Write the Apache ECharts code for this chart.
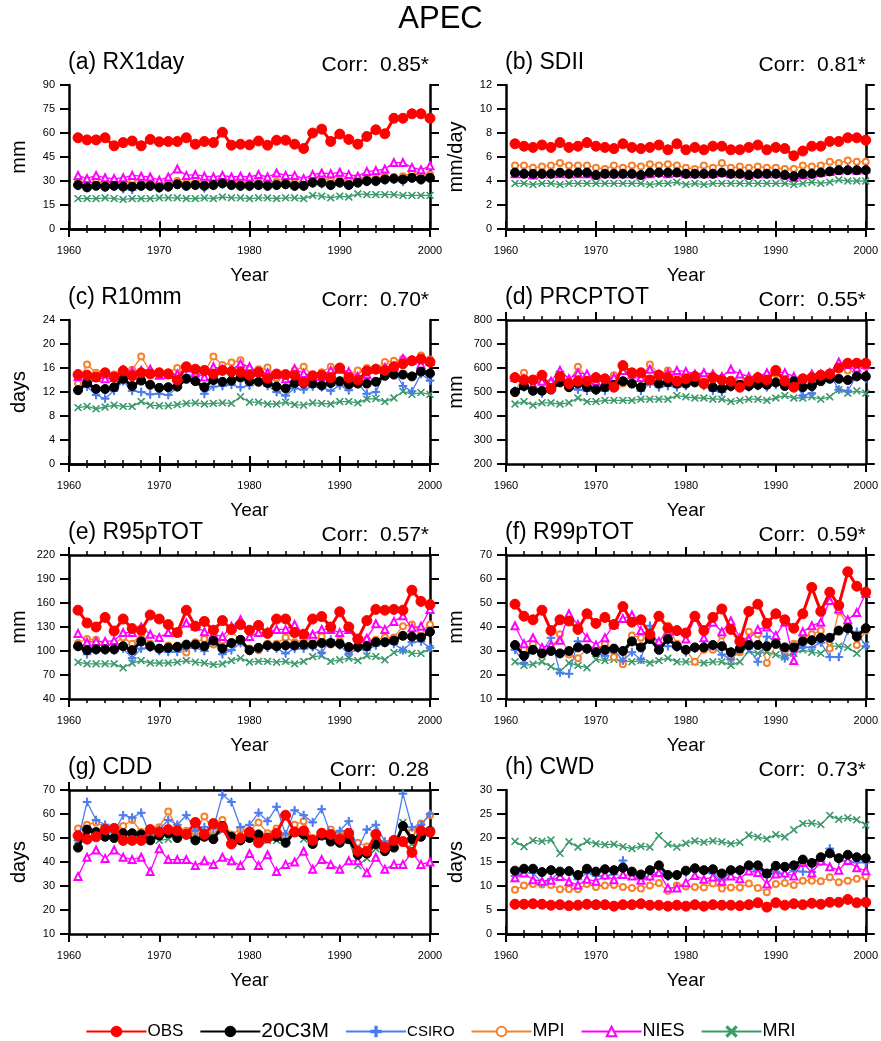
<!DOCTYPE html>
<html>
<head>
<meta charset="utf-8">
<title>APEC</title>
<script src="https://cdn.jsdelivr.net/npm/echarts@6/dist/echarts.min.js"></script>
<style>
  html, body { margin: 0; padding: 0; background: #fff; }
  #chart { width: 881px; height: 1041px; }
</style>
</head>
<body>
<div id="chart"></div>
<script>
// years 1961-2000
const years = [
  1961, 1962, 1963, 1964, 1965, 1966, 1967, 1968, 1969, 1970,
  1971, 1972, 1973, 1974, 1975, 1976, 1977, 1978, 1979, 1980,
  1981, 1982, 1983, 1984, 1985, 1986, 1987, 1988, 1989, 1990,
  1991, 1992, 1993, 1994, 1995, 1996, 1997, 1998, 1999, 2000
]
const models = ['OBS', '20C3M', 'CSIRO', 'MPI', 'NIES', 'MRI']

// (a) RX1day
const rx1dayObs = [57, 55.7, 55.7, 57, 52, 54, 55, 52, 56, 54.5,
  54.7, 54.7, 57, 53, 54.7, 54, 60.5, 52.4, 53, 52.6,
  55, 52.4, 55.5, 55.5, 53, 50.3, 60, 62.4, 54.7, 59.3,
  56, 53, 57.8, 62, 59.5, 69.2, 69.2, 72, 72, 69.2]
const rx1day20c3m = [27.5, 26, 27, 26.5, 27, 26.5, 26.5, 27, 27, 26,
  26.5, 28, 27, 27.5, 27, 27.5, 28.5, 27.5, 27, 27,
  27.5, 27, 27.5, 28, 27, 27, 29, 29, 27.5, 29,
  27.5, 29, 30, 30, 31, 31.5, 31, 32, 31, 32]
const rx1dayCsiro = [27, 26, 27, 26, 26.5, 25, 24.5, 26.5, 26.5, 25.5,
  26, 27.5, 26.5, 27, 25.5, 27, 28, 27, 26.5, 26.5,
  27, 26.5, 27, 27.5, 26.5, 26.5, 28.5, 28, 27, 28.5,
  27, 28.5, 29.5, 29.5, 30.5, 31, 29.5, 31.5, 30.5, 31.5]
const rx1dayMpi = [30, 28.5, 29.5, 28.5, 29.5, 28.5, 29.5, 29, 29.5, 28,
  29, 30, 29, 30, 29.5, 30, 30.5, 30, 29, 29.5,
  29.5, 29.5, 29.5, 30, 29, 29, 31.5, 32.5, 30, 31,
  30, 32, 32, 32, 33, 32.5, 33, 35, 33.5, 34]
const rx1dayNies = [33.5, 31.5, 33.5, 32, 31.5, 32, 33.5, 33, 32.5, 30.5,
  32.5, 37.5, 33.5, 34, 33, 32.5, 33.5, 32.5, 33, 32.5,
  34, 32.5, 35, 33.5, 33.5, 31.5, 34, 35, 34.5, 35.5,
  34, 33, 36, 36.5, 37.5, 41.5, 41.5, 38.5, 37, 39.5]
const rx1dayMri = [19, 19, 19, 19.5, 19, 18.5, 19, 19, 19, 19.5,
  19.5, 19.5, 19, 19, 19.5, 19, 20, 19.5, 19.5, 19,
  19.5, 19.5, 19, 19.5, 19.5, 19, 21, 20.5, 19.5, 20.5,
  20, 22, 21.5, 21.5, 21.5, 21.5, 21, 21, 21, 21]

// (b) SDII
const sdiiObs = [7.1, 6.9, 6.8, 7.0, 6.8, 7.2, 6.8, 6.9, 7.2, 6.9,
  6.8, 6.7, 7.1, 6.8, 6.7, 6.8, 7.0, 6.6, 7.1, 6.6,
  6.8, 6.6, 6.9, 6.9, 6.6, 6.6, 6.8, 7.0, 6.6, 6.8,
  6.7, 6.1, 6.5, 6.9, 6.9, 7.3, 7.3, 7.6, 7.6, 7.4]
const sdii20c3m = [4.7, 4.6, 4.6, 4.6, 4.6, 4.7, 4.6, 4.7, 4.7, 4.5,
  4.6, 4.6, 4.6, 4.6, 4.5, 4.7, 4.7, 4.7, 4.7, 4.6,
  4.6, 4.6, 4.6, 4.7, 4.6, 4.6, 4.5, 4.6, 4.6, 4.6,
  4.5, 4.4, 4.6, 4.6, 4.7, 4.8, 4.9, 4.9, 4.9, 4.9]
const sdiiCsiro = [4.7, 4.7, 4.6, 4.6, 4.6, 4.7, 4.6, 4.7, 4.6, 4.5,
  4.6, 4.6, 4.6, 4.6, 4.6, 4.7, 4.6, 4.7, 4.7, 4.6,
  4.6, 4.7, 4.6, 4.7, 4.6, 4.6, 4.6, 4.6, 4.6, 4.6,
  4.6, 4.5, 4.6, 4.7, 4.7, 4.8, 4.9, 4.9, 4.9, 5.0]
const sdiiMpi = [5.3, 5.3, 5.1, 5.2, 5.3, 5.5, 5.3, 5.3, 5.3, 5.1,
  5.0, 5.3, 5.1, 5.3, 5.2, 5.4, 5.3, 5.4, 5.3, 5.1,
  5.0, 5.3, 5.1, 5.5, 5.1, 5.2, 5.1, 5.2, 5.1, 5.1,
  5.0, 5.0, 5.3, 5.2, 5.3, 5.6, 5.5, 5.7, 5.6, 5.6]
const sdiiNies = [4.6, 4.6, 4.5, 4.6, 4.6, 4.6, 4.6, 4.6, 4.6, 4.5,
  4.6, 4.6, 4.6, 4.6, 4.5, 4.6, 4.7, 4.6, 4.7, 4.6,
  4.6, 4.6, 4.6, 4.7, 4.6, 4.6, 4.5, 4.6, 4.6, 4.6,
  4.5, 4.3, 4.5, 4.6, 4.7, 4.8, 4.9, 5.0, 4.9, 5.0]
const sdiiMri = [3.8, 3.8, 3.7, 3.8, 3.8, 3.7, 3.8, 3.8, 3.8, 3.8,
  3.8, 3.8, 3.8, 3.8, 3.8, 3.7, 3.8, 3.8, 3.9, 3.7,
  3.8, 3.7, 3.8, 3.8, 3.8, 3.8, 3.8, 3.8, 3.8, 3.8,
  3.8, 3.7, 3.8, 3.9, 3.8, 3.9, 4.1, 4.0, 4.0, 4.0]

// (c) R10mm
const r10mmObs = [14.9, 14.8, 14.5, 15.2, 14.5, 15.5, 14.7, 15.2, 15.0, 15.2,
  15.0, 14.0, 16.2, 15.8, 15.6, 15.0, 15.6, 15.4, 15.3, 14.8,
  15.3, 14.3, 15.0, 14.9, 14.8, 13.6, 14.7, 14.8, 14.4, 16.0,
  14.4, 14.0, 15.5, 15.8, 15.6, 16.2, 16.7, 17.2, 17.5, 17.0]
const r10mm20c3m = [12.3, 13.5, 12.5, 12.5, 12.8, 14.2, 13.0, 13.9, 13.2, 12.7,
  12.8, 12.9, 14.2, 13.8, 12.8, 14.0, 13.7, 13.9, 14.4, 13.8,
  13.7, 13.5, 12.9, 12.6, 13.5, 13.4, 13.4, 13.1, 13.5, 13.8,
  13.3, 13.4, 13.4, 13.7, 14.7, 14.9, 14.9, 14.6, 15.4, 15.1]
const r10mmCsiro = [12.4, 12.9, 11.5, 10.9, 12.2, 13.8, 12.2, 12.0, 11.6, 11.7,
  11.5, 12.8, 14.8, 14.0, 11.7, 12.9, 13.0, 13.2, 12.8, 13.1,
  13.9, 13.0, 12.0, 11.4, 12.6, 12.4, 12.9, 12.8, 12.2, 13.1,
  12.3, 13.5, 11.7, 12.0, 15.2, 15.8, 13.0, 12.1, 15.0, 13.9]
const r10mmMpi = [13.4, 16.6, 15.2, 14.8, 14.9, 15.8, 15.7, 17.9, 15.4, 15.2,
  15.3, 16.0, 16.1, 14.9, 15.3, 17.9, 16.5, 16.9, 17.3, 15.6,
  15.8, 16.1, 14.3, 14.5, 15.6, 16.2, 14.8, 15.3, 16.2, 16.0,
  15.0, 15.6, 16.0, 15.8, 17.0, 17.2, 17.5, 17.4, 18.1, 17.4]
const r10mmNies = [14.6, 14.8, 14.4, 14.2, 14.4, 15.7, 15.4, 15.6, 15.8, 14.8,
  14.9, 15.0, 16.0, 15.2, 14.5, 16.2, 15.8, 15.7, 16.7, 16.2,
  15.3, 15.2, 14.9, 14.2, 15.9, 15.1, 14.6, 14.6, 15.6, 15.8,
  15.4, 14.6, 14.9, 15.8, 16.1, 16.3, 17.6, 17.3, 16.6, 17.1]
const r10mmMri = [9.4, 9.6, 9.2, 9.5, 9.8, 9.6, 9.6, 10.4, 9.8, 9.7,
  9.7, 9.9, 10.1, 10.2, 10.0, 10.1, 10.2, 10.1, 11.2, 10.3,
  10.3, 10.0, 10.0, 10.3, 9.9, 9.8, 10.2, 10.1, 10.0, 10.4,
  10.4, 10.2, 10.8, 10.9, 10.4, 11.0, 12.1, 11.6, 11.9, 11.6]

// (d) PRCPTOT
const prcptotObs = [560, 550, 550, 570, 515, 565, 535, 545, 545, 560,
  555, 520, 610, 580, 580, 550, 570, 560, 545, 555,
  565, 535, 560, 550, 545, 520, 545, 560, 550, 590,
  545, 520, 555, 560, 570, 575, 600, 620, 620, 620]
const prcptot20c3m = [500, 525, 505, 505, 510, 540, 520, 535, 520, 510,
  520, 530, 545, 535, 520, 550, 535, 540, 535, 535,
  540, 535, 520, 515, 525, 530, 525, 530, 530, 540,
  525, 545, 520, 525, 545, 555, 555, 550, 565, 565]
const prcptotCsiro = [505, 520, 515, 495, 520, 585, 520, 510, 505, 505,
  505, 535, 545, 545, 505, 535, 520, 525, 520, 525,
  545, 525, 505, 500, 520, 525, 520, 525, 520, 530,
  525, 545, 485, 495, 560, 575, 510, 505, 570, 555]
const prcptotMpi = [495, 580, 545, 545, 540, 560, 540, 605, 560, 545,
  545, 570, 535, 570, 555, 615, 575, 590, 575, 555,
  560, 560, 550, 545, 545, 555, 530, 545, 560, 575,
  545, 545, 555, 545, 575, 580, 600, 590, 605, 605]
const prcptotNies = [560, 555, 530, 545, 545, 590, 555, 580, 575, 545,
  545, 560, 590, 575, 560, 595, 575, 580, 590, 585,
  575, 580, 575, 565, 595, 575, 565, 565, 580, 585,
  580, 565, 555, 575, 575, 580, 625, 615, 600, 615]
const prcptotMri = [450, 460, 445, 455, 455, 450, 455, 475, 460, 460,
  465, 465, 465, 465, 470, 470, 470, 470, 485, 480,
  475, 475, 470, 470, 460, 465, 470, 470, 465, 475,
  485, 475, 475, 480, 470, 480, 510, 495, 505, 495]

// (e) R95pTOT
const r95pObs = [151, 135, 130, 142, 125, 140, 128, 126, 145, 140,
  133, 123, 151, 131, 137, 126, 138, 127, 133, 126,
  132, 122, 140, 140, 123, 121, 140, 143, 130, 149,
  130, 115, 138, 152, 151, 152, 151, 176, 162, 158]
const r95p20c3m = [106, 101, 102, 102, 102, 106, 101, 112, 106, 103,
  104, 105, 108, 108, 106, 113, 103, 110, 114, 101,
  104, 107, 106, 107, 107, 108, 108, 110, 110, 109,
  105, 105, 106, 111, 111, 113, 119, 118, 117, 124]
const r95pCsiro = [105, 96, 101, 101, 101, 103, 91, 103, 104, 100,
  99, 99, 104, 104, 100, 112, 96, 101, 110, 100,
  103, 104, 103, 97, 103, 103, 105, 98, 114, 107,
  96, 103, 101, 107, 110, 109, 101, 111, 112, 104]
const r95pMpi = [110, 115, 114, 108, 109, 117, 109, 122, 109, 103,
  107, 107, 98, 111, 115, 108, 113, 125, 113, 103,
  101, 109, 109, 117, 111, 114, 114, 118, 108, 113,
  101, 108, 114, 114, 117, 117, 131, 133, 125, 133]
const r95pNies = [122, 111, 112, 112, 113, 123, 123, 130, 121, 117,
  123, 123, 135, 131, 124, 121, 118, 131, 139, 118,
  123, 124, 127, 127, 133, 121, 121, 127, 127, 123,
  127, 111, 116, 134, 127, 137, 144, 129, 131, 152]
const r95pMri = [86, 84, 84, 84, 84, 79, 85, 88, 85, 85,
  85, 86, 88, 86, 85, 83, 84, 88, 91, 86,
  87, 87, 86, 87, 84, 87, 93, 94, 87, 89,
  91, 88, 94, 93, 89, 98, 101, 97, 97, 103]

// (f) R99pTOT
const r99pObs = [49.5, 44.5, 43, 47, 38.5, 43, 42.5, 39, 45.5, 41.5,
  44, 41, 48.5, 42, 43, 37, 44.5, 39.5, 38.5, 37.5,
  44.5, 38.5, 44, 47.5, 39, 34, 46.5, 49.5, 41.5, 45.5,
  43, 39.5, 45.5, 56.5, 46.5, 54.5, 49, 63, 57, 54.5]
const r99p20c3m = [32.5, 28, 30.5, 29, 30, 29, 30, 31.5, 31, 29.5,
  30.5, 31, 30, 34, 31.5, 35, 30.5, 35, 32, 30.5,
  31.5, 31.5, 32.5, 32, 29.5, 31, 32.5, 32.5, 32, 33,
  31.5, 31.5, 34, 34.5, 35.5, 35.5, 38.5, 39.5, 36, 39.5]
const r99pCsiro = [30.5, 25, 30.5, 29.5, 35.5, 21, 20.5, 34, 30.5, 29.5,
  28, 30.5, 26, 29.5, 26.5, 40.5, 32, 32, 31.5, 29.5,
  31, 32, 32, 28.5, 26.5, 31, 31, 25.5, 36, 34,
  27, 30, 31.5, 31.5, 33.5, 27.5, 27.5, 38.5, 38, 32]
const r99pMpi = [32, 30.5, 33, 28.5, 30, 37, 28.5, 27, 31, 30.5,
  33, 27.5, 24.5, 36.5, 35.5, 35.5, 33, 40.5, 33, 30.5,
  25.5, 30.5, 30.5, 36.5, 27, 29.5, 38, 37, 25, 32.5,
  30, 33, 35.5, 37, 38.5, 31, 46.5, 41, 32.5, 38.5]
const r99pNies = [40.5, 33, 35.5, 31.5, 32.5, 34.5, 45.5, 41, 35.5, 32.5,
  35.5, 41, 43.5, 45, 38.5, 36.5, 34, 38, 38.5, 35,
  44, 35.5, 42, 38, 42.5, 35.5, 35, 39, 40, 36.5,
  42, 26, 38, 40.5, 42, 51, 47.5, 43, 46, 54]
const r99pMri = [25.5, 24, 24.5, 25.5, 23.5, 21.5, 25, 24, 23, 26.5,
  26, 26.5, 26, 25.5, 26, 25, 26, 27, 25.5, 25.5,
  25.5, 25, 25.5, 25.5, 24, 25.5, 30, 29, 29.5, 28.5,
  27.5, 29, 30.5, 29.5, 29, 32, 32, 31.5, 29, 32.5]

// (g) CDD
const cddObs = [51, 49.5, 50.5, 53.5, 54, 49, 49, 49, 53.5, 52.5,
  53.5, 53, 51.5, 56.5, 51.5, 56, 54.5, 47.5, 50, 52.5,
  48, 50, 52, 59.5, 52.5, 53, 49, 52, 51.5, 49.5,
  52, 44.5, 44.5, 51.5, 46, 49, 48.5, 44, 53, 52.5]
const cdd20c3m = [46, 53.5, 52.5, 50.5, 50, 52, 52, 51.5, 49, 51,
  52, 50, 51.5, 49, 50.5, 49.5, 55, 50.5, 49, 50,
  51.5, 50, 50.5, 48, 52.5, 51.5, 47.5, 51, 48.5, 48,
  49.5, 43, 43.5, 47.5, 44.5, 46, 55, 49.5, 50.5, 53]
const cddCsiro = [49, 65, 57.5, 55.5, 52.5, 59.5, 58.5, 60.5, 51, 53.5,
  57.5, 55.5, 59.5, 53, 54.5, 54, 68, 65, 54.5, 55.5,
  60.5, 57, 63, 51.5, 61.5, 59.5, 56.5, 62, 51.5, 53,
  57, 45, 53.5, 55.5, 48.5, 49, 68.5, 54.5, 55.5, 60]
const cddMpi = [54, 55.5, 56.5, 54.5, 53.5, 55, 57.5, 52.5, 52, 54.5,
  61, 54, 53, 52.5, 59, 53, 57.5, 51.5, 53.5, 53,
  56.5, 52, 54, 51, 55.5, 57, 50, 52.5, 53.5, 51,
  50.5, 48, 46.5, 49.5, 47.5, 48.5, 54.5, 52.5, 56, 59.5]
const cddNies = [34, 42, 45, 41.5, 45, 42, 41, 42, 36, 45.5,
  41, 41, 41, 38.5, 40.5, 39, 42, 40.5, 38.5, 43.5,
  38.5, 43, 36, 39, 40, 44.5, 37, 41, 39, 37,
  40.5, 40.5, 35.5, 42, 37, 39, 39, 44, 39, 40]
const cddMri = [49, 52, 52.5, 52, 52, 50.5, 50.5, 50.5, 51.5, 49,
  49.5, 51.5, 52, 51, 50.5, 52, 53, 51, 49.5, 50,
  50.5, 49, 49, 51, 52, 49.5, 49, 51, 50, 48.5,
  49, 38.5, 41.5, 45.5, 45.5, 47, 56.5, 47.5, 52.5, 52]

// (h) CWD
const cwdObs = [6.2, 6.2, 6.3, 6.2, 6.0, 6.1, 5.9, 6.0, 6.2, 6.1,
  6.1, 5.8, 6.1, 6.1, 6.3, 6.0, 6.0, 5.8, 6.0, 5.8,
  6.1, 5.8, 6.1, 6.0, 6.0, 5.9, 6.1, 6.5, 5.6, 6.5,
  6.0, 6.3, 6.1, 6.4, 6.2, 6.6, 6.6, 7.2, 6.5, 6.6]
const cwd20c3m = [13.2, 13.6, 13.6, 12.9, 13.3, 13.0, 13.1, 12.3, 13.6, 13.0,
  13.5, 13.3, 13.8, 13.0, 12.4, 13.3, 14.3, 12.3, 12.3, 13.2,
  13.7, 13.3, 13.5, 12.6, 13.3, 13.3, 14.3, 14.3, 12.6, 14.2,
  14.0, 14.3, 15.5, 14.8, 16.0, 16.8, 15.8, 16.5, 16.0, 15.8]
const cwdCsiro = [12.1, 12.9, 12.7, 10.7, 11.4, 12.9, 12.9, 11.4, 12.7, 12.1,
  12.1, 12.4, 15.3, 12.6, 11.4, 11.9, 12.7, 12.0, 12.1, 12.8,
  13.4, 12.9, 12.6, 11.1, 13.0, 12.9, 13.6, 13.1, 11.9, 13.0,
  12.4, 13.2, 13.0, 12.9, 15.1, 17.8, 15.3, 15.2, 14.9, 14.9]
const cwdMpi = [9.2, 10.1, 10.4, 10.3, 10.2, 9.3, 9.4, 9.3, 10.4, 9.8,
  10.1, 10.2, 9.8, 9.6, 9.5, 10.1, 10.6, 9.0, 10.1, 9.9,
  9.8, 9.7, 10.5, 9.5, 9.7, 9.7, 10.5, 9.6, 8.7, 10.4,
  10.6, 10.2, 11.1, 11.1, 11.0, 11.8, 10.8, 11.1, 11.5, 12.0]
const cwdNies = [11.7, 12.7, 11.3, 11.0, 11.2, 12.0, 10.9, 10.2, 11.4, 11.0,
  12.3, 11.3, 12.4, 12.1, 11.2, 12.1, 12.8, 9.6, 9.6, 10.7,
  12.2, 11.4, 11.9, 11.0, 12.1, 11.5, 13.1, 12.8, 10.4, 12.5,
  12.7, 12.1, 14.9, 12.7, 15.2, 14.0, 13.3, 15.3, 13.8, 13.2]
const cwdMri = [19.3, 18.2, 19.5, 19.3, 19.6, 16.8, 19.2, 18.1, 19.3, 18.8,
  18.6, 18.7, 18.2, 17.8, 18.3, 18.1, 20.5, 18.7, 18.1, 18.9,
  19.4, 19.1, 19.4, 19.2, 18.8, 19.1, 20.6, 20.2, 19.8, 20.7,
  20.2, 21.7, 23.0, 23.1, 22.8, 24.7, 23.9, 24.2, 23.8, 22.7]

// panel definitions, same order as models
const panels = [
  { title: '(a) RX1day', corr: 'Corr:  0.85*', unit: 'mm', min: 0, max: 90, interval: 15,
    data: [rx1dayObs, rx1day20c3m, rx1dayCsiro, rx1dayMpi, rx1dayNies, rx1dayMri] },
  { title: '(b) SDII', corr: 'Corr:  0.81*', unit: 'mm/day', min: 0, max: 12, interval: 2,
    data: [sdiiObs, sdii20c3m, sdiiCsiro, sdiiMpi, sdiiNies, sdiiMri] },
  { title: '(c) R10mm', corr: 'Corr:  0.70*', unit: 'days', min: 0, max: 24, interval: 4,
    data: [r10mmObs, r10mm20c3m, r10mmCsiro, r10mmMpi, r10mmNies, r10mmMri] },
  { title: '(d) PRCPTOT', corr: 'Corr:  0.55*', unit: 'mm', min: 200, max: 800, interval: 100,
    data: [prcptotObs, prcptot20c3m, prcptotCsiro, prcptotMpi, prcptotNies, prcptotMri] },
  { title: '(e) R95pTOT', corr: 'Corr:  0.57*', unit: 'mm', min: 40, max: 220, interval: 30,
    data: [r95pObs, r95p20c3m, r95pCsiro, r95pMpi, r95pNies, r95pMri] },
  { title: '(f) R99pTOT', corr: 'Corr:  0.59*', unit: 'mm', min: 10, max: 70, interval: 10,
    data: [r99pObs, r99p20c3m, r99pCsiro, r99pMpi, r99pNies, r99pMri] },
  { title: '(g) CDD', corr: 'Corr:  0.28', unit: 'days', min: 10, max: 70, interval: 10,
    data: [cddObs, cdd20c3m, cddCsiro, cddMpi, cddNies, cddMri] },
  { title: '(h) CWD', corr: 'Corr:  0.73*', unit: 'days', min: 0, max: 30, interval: 5,
    data: [cwdObs, cwd20c3m, cwdCsiro, cwdMpi, cwdNies, cwdMri] }
]

const font = 'Liberation Sans, Arial, Helvetica, sans-serif'
const plusIcon = 'path://M4.3,0H5.7V4.3H10V5.7H5.7V10H4.3V5.7H0V4.3H4.3Z'
const crossIcon = 'path://M0.9,0L5,4.1L9.1,0L10,0.9L5.9,5L10,9.1L9.1,10L5,5.9L0.9,10L0,9.1L4.1,5L0,0.9Z'

const styles = {
  'OBS': { color: '#ff0000', symbol: 'circle', size: 10, width: 3, z: 8 },
  '20C3M': { color: '#000000', symbol: 'circle', size: 9, width: 3, z: 7 },
  'CSIRO': { color: '#4a7cf0', symbol: plusIcon, size: 8, width: 1.3, z: 5 },
  'MPI': { color: '#f7812b', symbol: 'emptyCircle', size: 6, width: 1.3, z: 4 },
  'NIES': { color: '#ff00ff', symbol: 'emptyTriangle', size: 7, width: 1.3, z: 6 },
  'MRI': { color: '#3c9a6b', symbol: crossIcon, size: 7, width: 1.3, z: 3 }
}

// plot box layout
const colLeft = [69, 506]
const rowTop = [85, 320, 555, 790]
const boxW = 361
const boxH = 144

const axisLine = { show: true, lineStyle: { color: '#000', width: 2.5 } }

let grids = []
let xAxes = []
let yAxes = []
let series = []
let titles = [{
  text: 'APEC', left: 'center', top: 4, padding: 0,
  textStyle: { fontFamily: font, fontSize: 31, fontWeight: 'normal', color: '#000' }
}]

panels.forEach((p, i) => {
  let left = colLeft[i % 2]
  let top = rowTop[Math.floor(i / 2)]
  grids.push({ left: left, top: top, width: boxW, height: boxH })

  titles.push({
    text: p.title, left: left - 1, top: top - 34, padding: 0,
    textStyle: { fontFamily: font, fontSize: 23, fontWeight: 'normal', color: '#000' }
  })
  titles.push({
    text: p.corr, right: 881 - (left + boxW) + 1, top: top - 30, padding: 0,
    textStyle: { fontFamily: font, fontSize: 21, fontWeight: 'normal', color: '#000' }
  })

  // bottom / top x axes
  xAxes.push({
    gridIndex: i, type: 'value', min: 1960, max: 2000, interval: 10, position: 'bottom',
    name: 'Year', nameLocation: 'middle', nameGap: 37,
    nameTextStyle: { fontFamily: font, fontSize: 19, color: '#000' },
    axisLine: axisLine,
    axisTick: { show: true, length: 8, lineStyle: { color: '#000', width: 2 } },
    minorTick: { show: true, splitNumber: 5, length: 4, lineStyle: { color: '#000', width: 1.5 } },
    axisLabel: { fontFamily: font, fontSize: 11, color: '#000', margin: 16, formatter: v => String(v) },
    splitLine: { show: false }
  })
  xAxes.push({
    gridIndex: i, type: 'value', min: 1960, max: 2000, interval: 10, position: 'top',
    axisLine: axisLine,
    axisTick: { show: true, length: 8, lineStyle: { color: '#000', width: 2 } },
    minorTick: { show: true, splitNumber: 5, length: 4, lineStyle: { color: '#000', width: 1.5 } },
    axisLabel: { show: false },
    splitLine: { show: false }
  })

  // left / right y axes
  yAxes.push({
    gridIndex: i, type: 'value', min: p.min, max: p.max, interval: p.interval, position: 'left',
    name: p.unit, nameLocation: 'middle', nameGap: 40, nameRotate: 90,
    nameTextStyle: { fontFamily: font, fontSize: 20, color: '#000' },
    axisLine: axisLine,
    axisTick: { show: true, length: 9, lineStyle: { color: '#000', width: 2 } },
    axisLabel: { fontFamily: font, fontSize: 11, color: '#000', margin: 14 },
    splitLine: { show: false }
  })
  yAxes.push({
    gridIndex: i, type: 'value', min: p.min, max: p.max, interval: p.interval, position: 'right',
    axisLine: axisLine,
    axisTick: { show: true, length: 9, lineStyle: { color: '#000', width: 2 } },
    axisLabel: { show: false },
    splitLine: { show: false }
  })

  models.forEach((m, k) => {
    let s = styles[m]
    series.push({
      name: m,
      type: 'line',
      xAxisIndex: i * 2,
      yAxisIndex: i * 2,
      data: years.map((y, j) => [y, p.data[k][j]]),
      symbol: s.symbol,
      symbolSize: s.size,
      showAllSymbol: true,
      z: s.z,
      lineStyle: { color: s.color, width: s.width },
      itemStyle: { color: s.color, borderColor: s.color, borderWidth: 1 },
      emphasis: { disabled: true }
    })
  })
})

let chart = echarts.init(document.getElementById('chart'))
chart.setOption({
  animation: false,
  backgroundColor: '#fff',
  title: titles,
  grid: grids,
  xAxis: xAxes,
  yAxis: yAxes,
  legend: {
    left: 'center',
    top: 1016,
    itemWidth: 60,
    itemHeight: 12,
    itemGap: 16,
    textStyle: { fontFamily: font, fontSize: 18, color: '#000', padding: [0, 0, 0, -4] },
    data: [
      { name: 'OBS', textStyle: { fontSize: 17 } },
      { name: '20C3M', textStyle: { fontSize: 21 } },
      { name: 'CSIRO', textStyle: { fontSize: 15 } },
      { name: 'MPI' },
      { name: 'NIES' },
      { name: 'MRI' }
    ]
  },
  series: series
})
</script>
</body>
</html>
